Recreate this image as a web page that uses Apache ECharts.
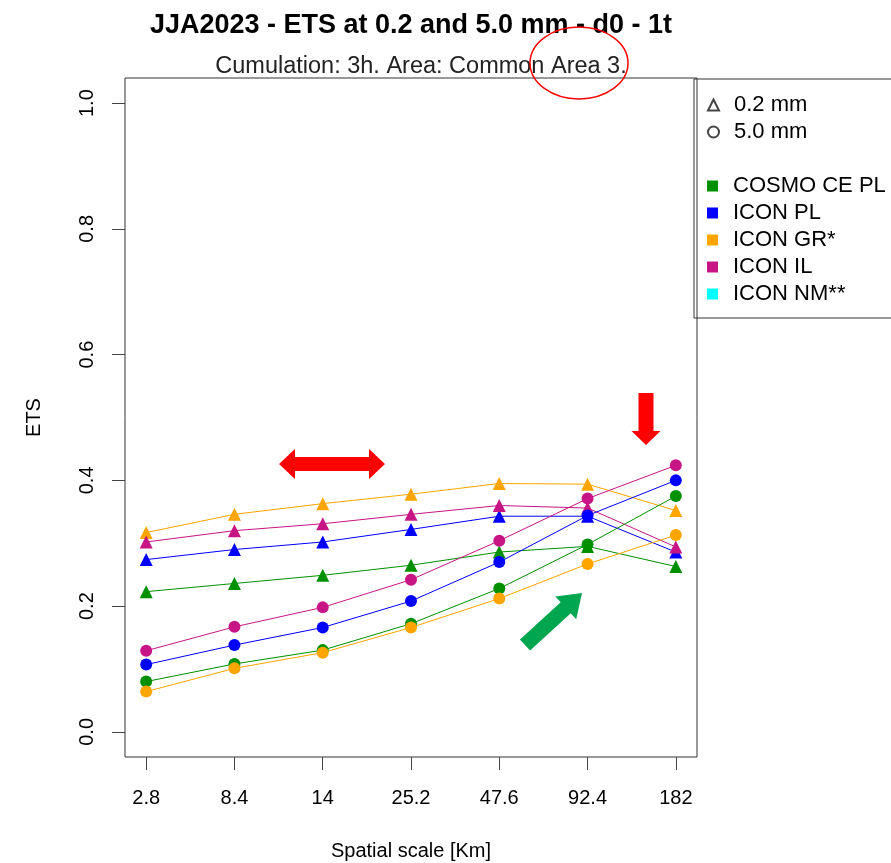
<!DOCTYPE html>
<html>
<head>
<meta charset="utf-8">
<script src="https://cdn.jsdelivr.net/npm/echarts@6/dist/echarts.min.js"></script>
<style>
  html, body { margin: 0; padding: 0; background: #fff; }
  #chart1 { width: 891px; height: 863px; }
</style>
</head>
<body>
<div id="chart1"></div>
<script>
// spatial scales (equally spaced on the x axis)
var scales = ['2.8', '8.4', '14', '25.2', '47.6', '92.4', '182'];
var yTicks = [0, 0.2, 0.4, 0.6, 0.8, 1.0];

var models = ['COSMO CE PL', 'ICON PL', 'ICON GR*', 'ICON IL', 'ICON NM**'];
var colors = ['#009000', '#0000ff', '#ffa500', '#c71585', '#00ffff'];

// ETS at 0.2 mm (triangles)
var cosmo02 = [0.223, 0.236, 0.249, 0.265, 0.286, 0.295, 0.263];
var iconPL02 = [0.274, 0.290, 0.302, 0.322, 0.343, 0.343, 0.286];
var iconGR02 = [0.317, 0.346, 0.363, 0.378, 0.395, 0.394, 0.352];
var iconIL02 = [0.302, 0.320, 0.331, 0.346, 0.360, 0.356, 0.294];

// ETS at 5.0 mm (circles)
var cosmo50 = [0.080, 0.108, 0.130, 0.172, 0.228, 0.298, 0.375];
var iconPL50 = [0.107, 0.138, 0.166, 0.208, 0.270, 0.344, 0.400];
var iconGR50 = [0.064, 0.101, 0.126, 0.166, 0.212, 0.267, 0.313];
var iconIL50 = [0.129, 0.167, 0.198, 0.242, 0.304, 0.371, 0.424];

var FONT = 'Liberation Sans';

function pairs(arr) {
  return arr.map(function (v, i) { return [i, v]; });
}

function lineSeries(name, arr, color, symbol) {
  return {
    name: name,
    type: 'line',
    data: pairs(arr),
    symbol: symbol,
    symbolSize: symbol == 'triangle' ? 13 : 12,
    showSymbol: true,
    lineStyle: { color: color, width: 1 },
    itemStyle: { color: color, opacity: 1 },
    emphasis: { disabled: true },
    silent: true,
    animation: false
  };
}

// polygon for a simple block arrow, used for the hand drawn annotations
function arrowPoints(x1, y1, x2, y2, shaftHalf, headHalf, headLen) {
  var dx = x2 - x1, dy = y2 - y1;
  var len = Math.sqrt(dx * dx + dy * dy);
  var ux = dx / len, uy = dy / len;
  var nx = -uy, ny = ux;
  var bx = x2 - ux * headLen, by = y2 - uy * headLen;
  return [
    [x1 + nx * shaftHalf, y1 + ny * shaftHalf],
    [bx + nx * shaftHalf, by + ny * shaftHalf],
    [bx + nx * headHalf, by + ny * headHalf],
    [x2, y2],
    [bx - nx * headHalf, by - ny * headHalf],
    [bx - nx * shaftHalf, by - ny * shaftHalf],
    [x1 - nx * shaftHalf, y1 - ny * shaftHalf]
  ];
}

var dom = document.getElementById('chart1');
var myChart = echarts.init(dom);
var option;

var series = [
  lineSeries('COSMO CE PL 0.2', cosmo02, colors[0], 'triangle'),
  lineSeries('ICON PL 0.2', iconPL02, colors[1], 'triangle'),
  lineSeries('ICON GR* 0.2', iconGR02, colors[2], 'triangle'),
  lineSeries('ICON IL 0.2', iconIL02, colors[3], 'triangle'),
  lineSeries('COSMO CE PL 5.0', cosmo50, colors[0], 'circle'),
  lineSeries('ICON PL 5.0', iconPL50, colors[1], 'circle'),
  lineSeries('ICON GR* 5.0', iconGR50, colors[2], 'circle'),
  lineSeries('ICON IL 5.0', iconIL50, colors[3], 'circle')
];

// empty series, only there so the legends have entries
series.push({ name: '0.2 mm', type: 'scatter', data: [],
  itemStyle: { color: 'transparent', borderColor: '#444', borderWidth: 1, opacity: 1 } });
series.push({ name: '5.0 mm', type: 'scatter', data: [],
  itemStyle: { color: 'transparent', borderColor: '#444', borderWidth: 1, opacity: 1 } });
models.forEach(function (m, i) {
  series.push({ name: m, type: 'scatter', data: [], itemStyle: { color: colors[i], opacity: 1 } });
});

var legendText = { fontFamily: FONT, fontSize: 22, color: '#000', lineHeight: 22, padding: [0, 0, 0, 10] };

option = {
  backgroundColor: '#fff',
  animation: false,
  title: [
    {
      text: 'JJA2023 - ETS at 0.2 and 5.0 mm - d0 - 1t',
      left: 411, top: 12, textAlign: 'center', padding: 0,
      textStyle: { fontFamily: FONT, fontSize: 27, fontWeight: 'bold', color: '#000' }
    },
    {
      text: 'Cumulation: 3h. Area: Common Area 3.',
      left: 421, top: 55, textAlign: 'center', padding: 0,
      textStyle: { fontFamily: FONT, fontSize: 23.5, fontWeight: 'normal', color: '#222' }
    }
  ],
  legend: [
    {
      orient: 'vertical', left: 707, top: 94, padding: 0,
      itemWidth: 11, itemHeight: 11, itemGap: 5,
      selectedMode: false,
      textStyle: legendText,
      data: [{ name: '0.2 mm', icon: 'triangle' }, { name: '5.0 mm', icon: 'circle' }]
    },
    {
      orient: 'vertical', left: 707, top: 175, padding: 0,
      itemWidth: 11, itemHeight: 11, itemGap: 5,
      selectedMode: false,
      textStyle: legendText,
      data: models.map(function (m) { return { name: m, icon: 'rect' }; })
    }
  ],
  grid: {
    left: 125, right: 194, top: 78, bottom: 106,
    show: true, borderColor: '#333', borderWidth: 1,
    outerBoundsMode: 'none'
  },
  xAxis: {
    type: 'value',
    min: -0.24, max: 6.24,
    name: 'Spatial scale [Km]',
    nameLocation: 'middle', nameGap: 84,
    nameTextStyle: { fontFamily: FONT, fontSize: 20, color: '#000' },
    axisLine: { show: false, onZero: false },
    axisTick: { show: true, length: 13, customValues: [0, 1, 2, 3, 4, 5, 6], lineStyle: { color: '#444' } },
    axisLabel: {
      customValues: [0, 1, 2, 3, 4, 5, 6],
      margin: 31,
      fontFamily: FONT, fontSize: 20, color: '#000',
      formatter: function (v) { return scales[Math.round(v)]; }
    },
    splitLine: { show: false }
  },
  yAxis: {
    type: 'value',
    min: -0.04, max: 1.04,
    name: 'ETS',
    nameLocation: 'middle', nameGap: 81, nameRotate: 90,
    nameTextStyle: { fontFamily: FONT, fontSize: 20, color: '#000' },
    axisLine: { show: false, onZero: false },
    axisTick: { show: true, length: 13, customValues: yTicks, lineStyle: { color: '#444' } },
    axisLabel: {
      customValues: yTicks,
      rotate: 90, margin: 28,
      fontFamily: FONT, fontSize: 20, color: '#000',
      formatter: function (v) { return v.toFixed(1); }
    },
    splitLine: { show: false }
  },
  graphic: [
    // legend frame
    { type: 'rect', shape: { x: 694, y: 79, width: 220, height: 239 },
      style: { fill: 'none', stroke: '#333', lineWidth: 1 }, z: 1 },
    // red ellipse around "Area 3."
    { type: 'ellipse', shape: { cx: 579, cy: 63, rx: 49, ry: 36 },
      style: { fill: 'none', stroke: '#ff0000', lineWidth: 1.5 }, z: 10 },
    // red double arrow
    { type: 'polygon', z: 10, style: { fill: '#ff0000' },
      shape: { points: [[279, 464], [295, 449], [295, 457], [369, 457], [369, 449], [385, 464], [369, 479], [369, 471], [295, 471], [295, 479]] } },
    // red down arrow
    { type: 'polygon', z: 10, style: { fill: '#ff0000' },
      shape: { points: arrowPoints(646, 393, 646, 445, 7.5, 14.5, 14) } },
    // green arrow
    { type: 'polygon', z: 10, style: { fill: '#00a650' },
      shape: { points: arrowPoints(525, 645, 582, 593, 7.5, 15.5, 22) } }
  ],
  series: series
};

if (option && typeof option === 'object') {
  myChart.setOption(option);
}
</script>
</body>
</html>
